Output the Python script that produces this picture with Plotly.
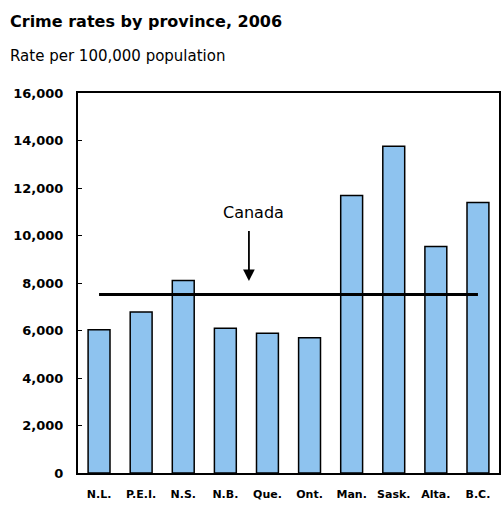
import plotly.graph_objects as go

provinces = ["N.L.", "P.E.I.", "N.S.", "N.B.", "Que.", "Ont.", "Man.", "Sask.", "Alta.", "B.C."]
rates = [6030, 6780, 8110, 6100, 5880, 5690, 11680, 13760, 9540, 11390]
canada_rate = 7520
y_ticks = [0, 2000, 4000, 6000, 8000, 10000, 12000, 14000, 16000]
y_tick_labels = ["0", "2,000", "4,000", "6,000", "8,000", "10,000", "12,000", "14,000", "16,000"]

FONT = "DejaVu Sans, Arial, sans-serif"

fig = go.Figure()
fig.add_trace(go.Bar(
    x=provinces, y=rates,
    marker=dict(color="#8EC3EF", line=dict(color="black", width=1.5)),
    showlegend=False,
))
fig.add_trace(go.Scatter(
    x=[provinces[0], provinces[-1]], y=[canada_rate, canada_rate],
    mode="lines", line=dict(color="black", width=3), showlegend=False,
))

PW, PH = 423, 380  # plot area size in px

annotations = [
    dict(x=3.56, y=canada_rate + 560, xref="x", yref="y",
         ax=3.56, ay=10250, axref="x", ayref="y",
         showarrow=True, arrowhead=2, arrowsize=1.3, arrowwidth=1.8,
         arrowcolor="black", text=""),
    dict(x=3.66, y=10950, xref="x", yref="y", showarrow=False,
         text="Canada", font=dict(family=FONT, size=16, color="black")),
    dict(x=-70 / PW, y=1 + (93 - 21) / PH, xref="paper", yref="paper",
         xanchor="left", yanchor="middle", showarrow=False,
         text="<b>Crime rates by province, 2006</b>",
         font=dict(family=FONT, size=16, color="black")),
    dict(x=-70 / PW, y=1 + (93 - 56) / PH, xref="paper", yref="paper",
         xanchor="left", yanchor="middle", showarrow=False,
         text="Rate per 100,000 population",
         font=dict(family=FONT, size=15, color="black")),
]

fig.update_layout(
    width=504, height=514,
    margin=dict(l=78, r=3, t=93, b=41),
    plot_bgcolor="white", paper_bgcolor="white",
    bargap=0.48,
    annotations=annotations,
)

fig.update_xaxes(
    showline=True, linecolor="black", linewidth=2, mirror=True,
    ticks="", ticklabelstandoff=10,
    tickfont=dict(family=FONT, size=11, color="black", weight="bold"),
    showgrid=False,
)
fig.update_yaxes(
    range=[0, 16000], tickvals=y_ticks, ticktext=y_tick_labels,
    showline=True, linecolor="black", linewidth=2, mirror=True,
    ticks="inside", ticklen=4, tickcolor="black", ticklabelstandoff=10,
    tickfont=dict(family=FONT, size=13, color="black", weight="bold"),
    showgrid=False, zeroline=False,
)

fig.write_html("out.html")
